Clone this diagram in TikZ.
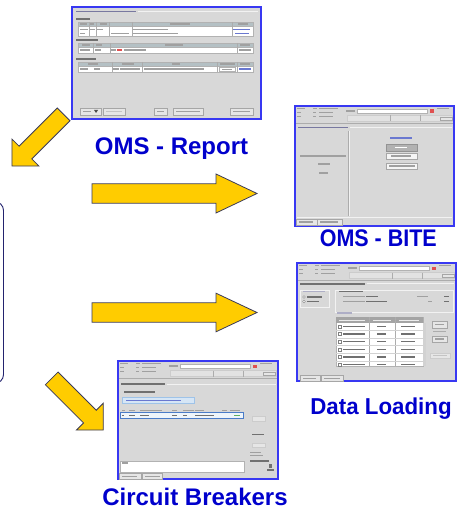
\documentclass[tikz,border=0pt]{standalone}
\usepackage{fontspec}
\setmainfont{Liberation Sans}
\definecolor{shotbg}{HTML}{D8D8D8}
\definecolor{frameblue}{HTML}{3838F2}
\definecolor{txtc}{HTML}{A0A0A0}
\definecolor{dtxtc}{HTML}{707070}
\definecolor{ttlc}{HTML}{7878A0}
\definecolor{linkc}{HTML}{6A78D0}
\definecolor{redc}{HTML}{E05050}
\definecolor{hdrbg}{HTML}{B4C0C4}
\definecolor{btnbg}{HTML}{E6E6E6}
\definecolor{lightc}{HTML}{C4C4C4}
\definecolor{tbareabg}{HTML}{E2E2E2}
\definecolor{hlbg}{HTML}{D6E6F6}
\definecolor{hlborder}{HTML}{9FC3E8}
\definecolor{rowbg}{HTML}{EEF5FB}
\definecolor{rowborder}{HTML}{4A7CC8}
\definecolor{greenc}{HTML}{60B060}
\definecolor{lblblue}{HTML}{0000CC}
\definecolor{arrfill}{HTML}{FFCC00}
\definecolor{arrdraw}{HTML}{3A3A58}
\definecolor{navyc}{HTML}{23236E}
\definecolor{tblhead}{HTML}{A4A4A4}
\tikzset{
  shot/.style={draw=frameblue, line width=1.4pt, fill=shotbg, inner sep=0pt, outer sep=0pt, anchor=north west},
  lbl/.style={text=lblblue, font=\fontsize{24}{28}\selectfont\bfseries, inner sep=0pt, anchor=base},
  barr/.style={fill=arrfill, draw=arrdraw, line width=0.8pt, line join=miter},
  wbox/.style={fill=white, draw=gray!60, line width=0.3pt},
  btn/.style={fill=btnbg, draw=gray!70, line width=0.3pt},
  hdr/.style={fill=hdrbg, draw=gray!60, line width=0.3pt},
  sepline/.style={draw=gray!65, line width=0.4pt},
  glin/.style={draw=white!90!gray, line width=0.5pt},
  tbarea/.style={fill=tbareabg, draw=gray!40, line width=0.3pt},
}
\newcommand\tb[4][txtc]{\fill[#1] (#2,#3-0.7) rectangle ++(#4,1.4);}
\newcommand\toolbar[3]{%
  \foreach \rr/\la/\lb/\lc in {0/8/4/19,1/4/3/14,2/4/3/14}{%
    \tb{#1+2}{#2+2.5+4*\rr}{\la}\tb{#1+18}{#2+2.5+4*\rr}{\lb}\tb{#1+24}{#2+2.5+4*\rr}{\lc}}
  \tb{#1+51}{#2+5}{9}
  \draw[wbox] (#1+62,#2+3) rectangle (#1+132,#2+7);
  \fill[redc] (#1+135,#2+3.5) rectangle (#1+138.5,#2+7);
  \tb{#1+142}{#2+2.5}{12}
  \draw[tbarea] (#1+52,#2+9.5) rectangle (#3-1.5,#2+15.5);
  \draw[sepline] (#1+95,#2+9.5) -- (#1+95,#2+15.5);
  \draw[sepline] (#1+125,#2+9.5) -- (#1+125,#2+15.5);
  \draw[btn] (#1+145,#2+11) rectangle (#1+157,#2+14);
  \draw[sepline] (#1+1,#2+17.5) -- (#3-1,#2+17.5);
}
\newcommand\blockarrow[7]{%
  \begin{scope}[shift={(#1,#2)},rotate=#3]
    \draw[barr] (0,-#5) -- (#4-#7,-#5) -- (#4-#7,-#6) -- (#4,0) -- (#4-#7,#6) -- (#4-#7,#5) -- (0,#5) -- cycle;
  \end{scope}}
\begin{document}
\begin{tikzpicture}[x=1pt,y=-1pt]
\useasboundingbox (0,0) rectangle (457,510);
\clip (0,0) rectangle (457,510);

% partial rounded box at left edge
\draw[navyc, line width=0.9pt, rounded corners=9pt] (-30,201.5) rectangle (3.5,383.5);

% ---------- OMS - Report screenshot ----------
\node[shot, minimum width=189pt, minimum height=112pt] (rep) at (72,7) {};
\tb[ttlc]{76}{11.5}{60}
\draw[glin] (138,11.5) -- (258,11.5);
\tb[dtxtc]{76}{19}{14}
\draw[wbox] (78,22) rectangle (253,36);
\draw[hdr] (78,22) rectangle (253,26.5);
\foreach \cc in {89,96,109,132,232} \draw[sepline] (\cc,22) -- (\cc,36);
\tb{80}{24.2}{7}\tb{90}{24.2}{4}\tb{100}{24.2}{7}\tb{170}{24.2}{20}\tb{238}{24.2}{10}
\tb{80}{29.5}{8}\tb{90}{29.5}{5}\tb{97}{29.5}{6}\tb{133}{29.5}{35}\tb[linkc]{233}{29.5}{17}
\tb{80}{33.5}{5}\tb{111}{33.5}{18}\tb{133}{33.5}{45}\tb[linkc]{235}{33.5}{14}
\tb[dtxtc]{76}{40}{22}
\draw[wbox] (78,43) rectangle (253,53);
\draw[hdr] (78,43) rectangle (253,47);
\foreach \cc in {93,110,237} \draw[sepline] (\cc,43) -- (\cc,53);
\tb{82}{45}{8}\tb{96}{45}{6}\tb{165}{45}{18}\tb{240}{45}{10}
\tb{80}{50}{10}\tb{95}{50}{6}\tb{111}{50}{5}\tb[redc]{117}{50}{5}\tb{124}{50}{22}\tb{239}{50}{12}
\tb[dtxtc]{76}{59}{20}
\draw[wbox] (78,62) rectangle (253,72);
\draw[hdr] (78,62) rectangle (253,66.5);
\foreach \cc in {112,142,217,237} \draw[sepline] (\cc,62) -- (\cc,72);
\tb{88}{64.2}{10}\tb{122}{64.2}{12}\tb{172}{64.2}{8}\tb{220}{64.2}{15}\tb{240}{64.2}{10}
\tb{80}{69}{8}\tb{94}{69}{6}\tb{113}{69}{6}\tb{120}{69}{20}\tb{144}{69}{60}
\draw[wbox] (219,67) rectangle (235,71.5);
\tb{222}{69.3}{10}\tb[linkc]{239}{69}{12}
\draw[btn] (80,108) rectangle (101,115); \tb{83}{111.5}{8}
\fill[black!70] (94,110) -- (98,110) -- (96,113) -- cycle;
\draw[btn] (103,108) rectangle (125,115); \tb[lightc]{106}{111.5}{16}
\draw[btn] (154,108) rectangle (167,115); \tb{157}{111.5}{7}
\draw[btn] (173,108) rectangle (203,115); \tb{176}{111.5}{24}
\draw[btn] (230,108) rectangle (253,115); \tb{233}{111.5}{17}

% ---------- OMS - BITE screenshot ----------
\node[shot, minimum width=159pt, minimum height=120pt] (bite) at (295,106) {};
\toolbar{295}{106}{454}
\tb[ttlc]{298}{127.5}{50}
\draw[glin] (350,127.5) -- (452,127.5);
\draw[sepline] (348,131) -- (348,216);
\draw[glin] (349,131) -- (349,216);
\draw[glin] (297,217) -- (452,217);
\tb{300}{156}{46}\tb{318}{164}{12}\tb{319}{173}{9}
\tb[linkc]{390}{138}{22}
\draw[fill=gray!60, draw=gray!85, line width=0.3pt] (386,144) rectangle (417,151);
\tb[white]{395}{147.5}{12}
\draw[btn, fill=white!60!btnbg] (386,153) rectangle (417,159.5); \tb{391}{156.2}{20}
\draw[btn, fill=white!60!btnbg] (386,163) rectangle (417,169.5); \tb{389}{166.2}{26}
\draw[btn] (296,219) rectangle (317,225.5); \tb{299}{222.2}{14}
\draw[btn] (317,219) rectangle (342,225.5); \tb{320}{222.2}{18}

% ---------- Data Loading screenshot ----------
\node[shot, minimum width=159pt, minimum height=118pt] (dl) at (297,263) {};
\toolbar{297}{263}{456}
\fill[dtxtc] (300,282.5) rectangle (365,284.5);
\draw[glin] (367,283.5) -- (454,283.5);
\draw[glin] (300,290) rectangle (329,307);
\tb[ttlc!60]{303}{291.3}{22}
\draw[fill=white, draw=gray, line width=0.3pt] (304,297) circle (1.3); \tb[dtxtc]{307}{297}{15}
\draw[fill=white, draw=gray, line width=0.3pt] (304,301.5) circle (1.3); \tb[dtxtc]{307}{301.5}{12}
\draw[glin] (335,290) rectangle (453,312);
\fill[dtxtc] (339,290.5) rectangle (363,292.3);
\tb{343}{296.5}{22}\tb[dtxtc]{366}{296.5}{12}\tb{417}{296.5}{11}\tb[dtxtc]{444}{296.5}{5}
\tb{343}{301.5}{22}\tb[dtxtc]{366}{301.5}{21}\tb{428}{301.5}{4}\tb[dtxtc]{444}{301.5}{5}
\tb[ttlc!60]{337}{313}{15}
\draw[wbox] (336,317.3) rectangle (423,366.3);
\fill[tblhead] (336,317.3) rectangle (423,323);
\tb[white!85!gray]{339}{320.2}{26}\tb[white!85!gray]{373}{320.2}{18}\tb[white!85!gray]{399}{320.2}{20}
\foreach \cc in {369.3,395} \draw[sepline] (\cc,317.3) -- (\cc,366.3);
\fill[gray!35] (423,323) rectangle (425.5,366.3);
\foreach \yy in {330.2,338,345.6,353.3,361} \draw[gray!35, line width=0.3pt] (336,\yy) -- (423,\yy);
\foreach \yy in {326.3,334,341.7,349.4,357.1,364.3}{%
  \draw[fill=white, draw=gray, line width=0.3pt] (338,\yy-1.5) rectangle ++(3,3);
  \tb[dtxtc]{343}{\yy}{22}\tb[dtxtc]{377}{\yy}{9}\tb[dtxtc]{401}{\yy}{14}}
\draw[btn] (432,321) rectangle (447,328); \tb{435}{324.5}{9}
\draw[sepline] (433,330.7) -- (446,330.7);
\draw[btn] (432,336) rectangle (447,342); \tb{435}{339}{9}
\draw[btn, draw=gray!40] (430,353) rectangle (450,358); \tb[lightc]{433}{355.5}{14}
\draw[btn] (300,375.3) rectangle (320,381); \tb{303}{378.2}{13}
\draw[btn] (321.5,375.3) rectangle (343.3,381); \tb{324}{378.2}{16}

% ---------- Circuit Breakers screenshot ----------
\node[shot, minimum width=160pt, minimum height=118pt] (cb) at (118,361) {};
\toolbar{118}{361}{278}
\fill[dtxtc] (121,383) rectangle (165,385);
\draw[glin] (167,384) -- (276,384);
\fill[dtxtc] (124,391.1) rectangle (155,392.9);
\draw[fill=hlbg, draw=hlborder, line width=0.3pt] (122,397.5) rectangle (194,403);
\tb[linkc]{126}{400.2}{55}
\tb{122}{410.3}{3}\tb{129}{410.3}{6}\tb{140}{410.3}{22}\tb{172}{410.3}{5}\tb{183}{410.3}{11}\tb{195}{410.3}{9}\tb{222}{410.3}{5}\tb{230}{410.3}{10}
\draw[fill=rowbg, draw=rowborder, line width=0.5pt] (120.5,412.3) rectangle (243.7,418.3);
\tb[dtxtc]{122}{415.3}{2}\tb[dtxtc]{129}{415.3}{6}\tb[dtxtc]{140}{415.3}{9}\tb[dtxtc]{172}{415.3}{5}\tb[dtxtc]{183}{415.3}{4}\tb[dtxtc]{195}{415.3}{19}\tb[greenc]{234}{415.3}{6}
\draw[btn, draw=gray!40] (252,416) rectangle (265,420.7);
\tb[dtxtc]{252}{434.3}{12}
\draw[btn, draw=gray!40] (252,443) rectangle (265,447.5);
\tb{250}{452.5}{11}\tb{250}{455.5}{13}
\fill[dtxtc] (250,460.2) rectangle (269,461.9);
\fill[dtxtc] (269,463.5) rectangle (271.5,468);
\tb[dtxtc]{267}{470}{7}
\draw[wbox] (120.5,461) rectangle (244.5,472);
\tb{122}{463}{6}
\draw[btn] (119.5,473.3) rectangle (141.3,479); \tb{122}{476.2}{15}
\draw[btn] (142,473.3) rectangle (162,479); \tb{144.5}{476.2}{15}

% ---------- labels ----------
\node[lbl] (lrep) at (171.5,154.3) {OMS - Report};
\node[lbl] (lbite) at (378.3,246) {\scalebox{0.895}[1]{OMS - BITE}};
\node[lbl, font=\fontsize{23}{27}\selectfont\bfseries] (ldl) at (381,414.3) {\scalebox{0.97}[1]{Data Loading}};
\node[lbl] (lcb) at (195,505.8) {Circuit Breakers};

% ---------- block arrows ----------
\blockarrow{63.6}{114.4}{225}{73}{9}{19}{19}
\blockarrow{92}{193.5}{0}{165}{9.7}{19.5}{41}
\blockarrow{92}{312.5}{0}{165}{9.7}{19.3}{41}
\blockarrow{51.7}{378.4}{-45}{73}{9}{19}{19}
\end{tikzpicture}
\end{document}
